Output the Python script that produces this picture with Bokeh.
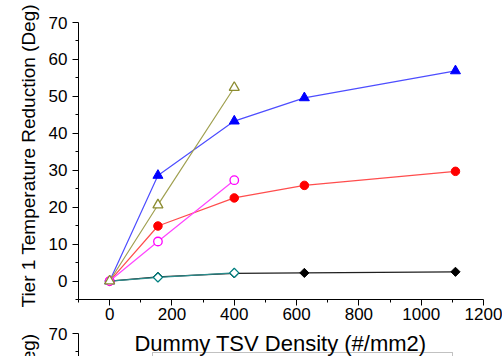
import numpy as np
from bokeh.plotting import figure
from bokeh.layouts import column
from bokeh.models import Range1d, Label, BoxAnnotation, FixedTicker, Title
from bokeh.embed import file_html
from bokeh.resources import INLINE

# ---- data ----
x_long = [0, 155, 400, 625, 1110]
x_short = [0, 155, 400]
blue_filled_tri = [0, 28.6, 43.3, 49.6, 56.9]
red_filled_circ = [0, 14.9, 22.5, 25.9, 29.7]
black_filled_diam = [0, 1.1, 2.1, 2.2, 2.5]
olive_open_tri = [0, 20.6, 52.4]
magenta_open_circ = [0, 10.7, 27.3]
teal_open_diam = [0, 1.0, 2.2]

x_ticks = [0, 200, 400, 600, 800, 1000, 1200]
x_minor = [-100, 100, 300, 500, 700, 900, 1100]
y_ticks = [0, 10, 20, 30, 40, 50, 60, 70]
y_minor = [-5, 5, 15, 25, 35, 45, 55, 65]
next_y_ticks = [70]
next_y_minor = [65]

x_title = "Dummy TSV Density (#/mm2)"
y_title = "Tier 1 Temperature Reduction (Deg)"

FONT = "Liberation Sans"


def style_axis(ax):
    ax.major_tick_out = 6
    ax.major_tick_in = 0
    ax.minor_tick_out = 3
    ax.minor_tick_in = 0
    ax.axis_line_color = "black"
    ax.major_tick_line_color = "black"
    ax.minor_tick_line_color = "black"
    ax.major_label_text_font = FONT
    ax.major_label_text_font_size = "17px"
    ax.major_label_text_color = "black"


def y_title_block(align, offset):
    return Title(text=y_title, align=align, offset=offset, standoff=13,
                 text_font=FONT, text_font_size="19px", text_font_style="normal",
                 text_color="black")


# ---------------- main panel ----------------
p = figure(width=502, height=328, x_range=Range1d(-100, 1200), y_range=Range1d(-5, 70),
           output_backend="svg", toolbar_location=None,
           min_border_left=78, min_border_top=22, min_border_right=19, min_border_bottom=29)
p.xgrid.visible = False
p.ygrid.visible = False
p.outline_line_color = None
p.background_fill_color = "white"
p.border_fill_color = "white"
style_axis(p.xaxis[0])
style_axis(p.yaxis[0])
p.xaxis.ticker = FixedTicker(ticks=x_ticks, minor_ticks=x_minor)
p.yaxis.ticker = FixedTicker(ticks=y_ticks, minor_ticks=y_minor)
p.xaxis.major_label_standoff = 2
p.yaxis.major_label_standoff = 5
p.add_layout(y_title_block("left", -8), "left")

p.line(x_long, black_filled_diam, line_color="#202020", line_width=1.2)
p.scatter(x_long, black_filled_diam, marker="square", angle=np.pi / 4, size=6.5,
          fill_color="black", line_color="black")

p.line(x_short, teal_open_diam, line_color="#2a8c8c", line_width=1.2)
p.scatter(x_short, teal_open_diam, marker="square", angle=np.pi / 4, size=6.5,
          fill_color="white", line_color="#008080", line_width=1.3)

p.line(x_long, blue_filled_tri, line_color="#4d4dff", line_width=1.2)
p.scatter(x_long, blue_filled_tri, marker="triangle", size=10,
          fill_color="#0000ff", line_color="#0000ff")

p.line(x_long, red_filled_circ, line_color="#ff4d4d", line_width=1.2)
p.scatter(x_long, red_filled_circ, marker="circle", size=8.5,
          fill_color="#ff0000", line_color="#ff0000")

p.line(x_short, magenta_open_circ, line_color="#ff44ff", line_width=1.2)
p.scatter(x_short, magenta_open_circ, marker="circle", size=8.5,
          fill_color="white", line_color="#ff00ff", line_width=1.3)

p.line(x_short, olive_open_tri, line_color="#a0a050", line_width=1.2)
p.scatter(x_short, olive_open_tri, marker="triangle", size=10,
          fill_color="white", line_color="#8c8c30", line_width=1.3)

# ---------------- top of the next panel (cut off by the window) ----------------
q = figure(width=502, height=33, x_range=Range1d(-100, 1200), y_range=Range1d(63.77, 70),
           output_backend="svg", toolbar_location=None, x_axis_location=None,
           min_border_left=78, min_border_top=10, min_border_right=19, min_border_bottom=0)
q.styles = {"margin-top": "-5px"}
q.xgrid.visible = False
q.ygrid.visible = False
q.outline_line_color = None
q.background_fill_color = "white"
q.border_fill_alpha = 0
style_axis(q.yaxis[0])
q.yaxis.ticker = FixedTicker(ticks=next_y_ticks, minor_ticks=next_y_minor)
q.yaxis.major_label_standoff = 5
q.add_layout(y_title_block("right", 0), "left")

# x-axis title of the main panel (it sits level with the next panel's top)
q.add_layout(Label(x=280, y=20, x_units="canvas", y_units="canvas", text=x_title,
                   text_align="center", text_baseline="middle",
                   text_font=FONT, text_font_size="22px", text_color="black"))
# legend frame of the next panel (only its top edge is visible)
q.add_layout(BoxAnnotation(left=152, right=452, top=29, bottom=60,
                           left_units="canvas", right_units="canvas",
                           top_units="canvas", bottom_units="canvas",
                           fill_color=None, line_color="#333333", line_width=1))

layout = column(p, q, spacing=0)
open("out.html", "w").write(file_html(layout, INLINE))
